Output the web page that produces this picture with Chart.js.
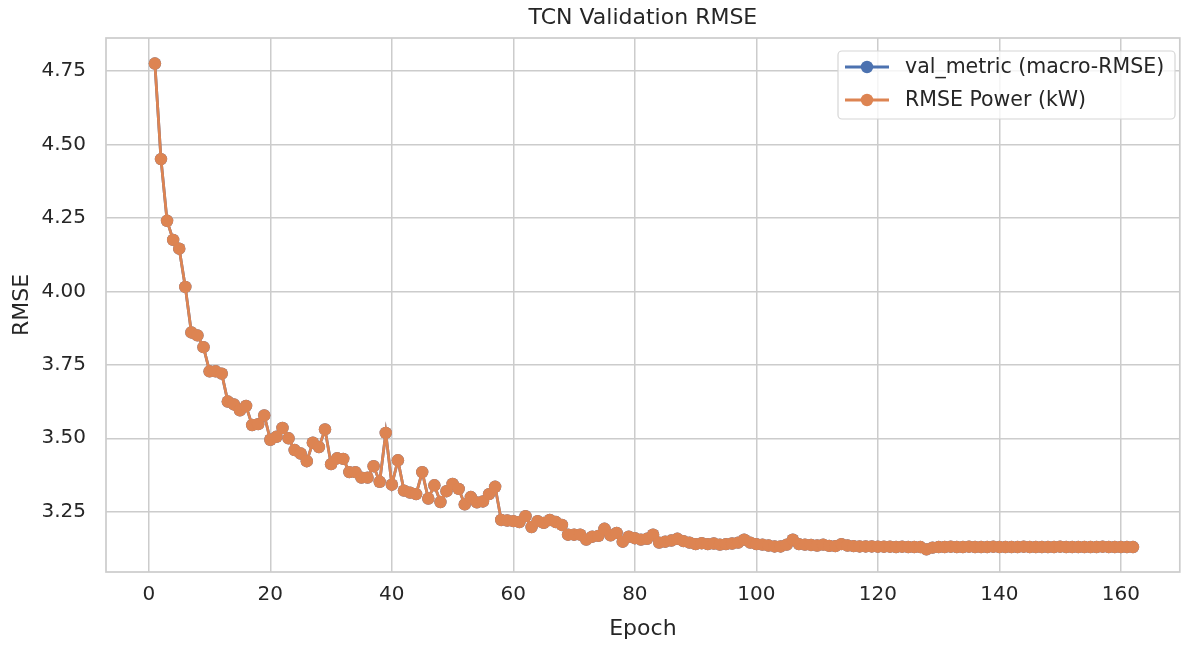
<!DOCTYPE html>
<html>
<head>
<meta charset="utf-8">
<title>TCN Validation RMSE</title>
<script src="https://cdn.jsdelivr.net/npm/chart.js@4.4.0/dist/chart.umd.min.js"></script>
<style>
  html, body { margin: 0; padding: 0; background: #ffffff; }
  #wrap { width: 1186px; height: 646px; }
</style>
</head>
<body>
<div id="wrap"><canvas id="myChart" width="1186" height="646"></canvas></div>
<script>
// Valores
const epochs = Array.from({ length: 162 }, (_, i) => i + 1);

const rmsePower = [
    4.775, 4.45, 4.24, 4.175, 4.145, 4.015, 3.86, 3.85, 3.81, 3.728,
    3.728, 3.72, 3.625, 3.615, 3.595, 3.61, 3.545, 3.548, 3.578, 3.495,
    3.505, 3.535, 3.50, 3.46, 3.448, 3.422, 3.485, 3.47, 3.53, 3.412,
    3.432, 3.43, 3.385, 3.385, 3.366, 3.366, 3.405, 3.352, 3.518, 3.342,
    3.425, 3.322, 3.315, 3.31, 3.385, 3.295, 3.34, 3.283, 3.32, 3.345,
    3.328, 3.275, 3.30, 3.282, 3.285, 3.31, 3.335, 3.222, 3.22, 3.218,
    3.215, 3.235, 3.198, 3.218, 3.212, 3.222, 3.215, 3.205, 3.172, 3.172,
    3.172, 3.155, 3.165, 3.168, 3.192, 3.17, 3.178, 3.148, 3.165, 3.16,
    3.155, 3.158, 3.172, 3.145, 3.148, 3.152, 3.158, 3.15, 3.145, 3.14,
    3.143, 3.14, 3.142, 3.138, 3.14, 3.142, 3.145, 3.155, 3.145, 3.14,
    3.138, 3.135, 3.132, 3.132, 3.138, 3.155, 3.14, 3.138, 3.137, 3.135,
    3.138, 3.134, 3.133, 3.14, 3.135, 3.133, 3.132, 3.132, 3.132, 3.131,
    3.131, 3.131, 3.13, 3.131, 3.13, 3.13, 3.13, 3.122, 3.128, 3.13,
    3.13, 3.131, 3.13, 3.13, 3.131, 3.13, 3.13, 3.13, 3.131, 3.13,
    3.13, 3.13, 3.13, 3.131, 3.13, 3.13, 3.13, 3.13, 3.13, 3.131,
    3.13, 3.13, 3.13, 3.13, 3.13, 3.13, 3.131, 3.13, 3.13, 3.13,
    3.13, 3.13
];
// val_metric coincide com RMSE Power (a linha azul fica escondida sob a laranja)
const valMetric = rmsePower.slice();

const seriesLabels = ['val_metric (macro-RMSE)', 'RMSE Power (kW)'];
const xTicks = [0, 20, 40, 60, 80, 100, 120, 140, 160];
const yTicks = [3.25, 3.50, 3.75, 4.00, 4.25, 4.50, 4.75];

const BLUE = '#4c72b0';
const ORANGE = '#dd8452';
const GRID = '#cccccc';
const TEXT = '#262626';
const FONT = "'DejaVu Sans', sans-serif";

function toPoints(values) {
    return values.map((v, i) => ({ x: epochs[i], y: v }));
}

// Título, moldura e legenda desenhados à mão (estilo matplotlib/seaborn)
const decorPlugin = {
    id: 'decor',
    afterDraw(chart) {
        const { ctx, chartArea } = chart;
        ctx.save();
        // moldura
        ctx.strokeStyle = GRID;
        ctx.lineWidth = 1.7;
        ctx.strokeRect(chartArea.left, chartArea.top, chartArea.right - chartArea.left, chartArea.bottom - chartArea.top);

        // título
        ctx.fillStyle = TEXT;
        ctx.font = '22px ' + FONT;
        ctx.textAlign = 'center';
        ctx.textBaseline = 'middle';
        ctx.fillText('TCN Validation RMSE', (chartArea.left + chartArea.right) / 2, 18);

        // legenda
        const bx = 838, by = 51, bw = 337, bh = 68;
        ctx.fillStyle = 'rgba(255,255,255,0.8)';
        ctx.strokeStyle = '#d6d6d6';
        ctx.lineWidth = 1.2;
        ctx.beginPath();
        ctx.roundRect(bx, by, bw, bh, 4);
        ctx.fill();
        ctx.stroke();

        const colors = [BLUE, ORANGE];
        const rows = [67, 100];
        ctx.font = '20.5px ' + FONT;
        ctx.textAlign = 'left';
        rows.forEach((ry, i) => {
            ctx.strokeStyle = colors[i];
            ctx.lineWidth = 2.8;
            ctx.beginPath();
            ctx.moveTo(845, ry);
            ctx.lineTo(889, ry);
            ctx.stroke();
            ctx.fillStyle = colors[i];
            ctx.beginPath();
            ctx.arc(867, ry, 6.2, 0, Math.PI * 2);
            ctx.fill();
            ctx.fillStyle = TEXT;
            ctx.fillText(seriesLabels[i], 905, ry + 1);
        });
        ctx.restore();
    }
};

function criarGrafico() {
    const config = {
        type: 'line',
        data: {
            datasets: [
                {
                    label: seriesLabels[0],
                    data: toPoints(valMetric),
                    borderColor: BLUE,
                    backgroundColor: BLUE,
                    borderWidth: 2.8,
                    pointRadius: 6.2,
                    pointBorderWidth: 0,
                    pointBackgroundColor: BLUE,
                    tension: 0,
                    order: 1
                },
                {
                    label: seriesLabels[1],
                    data: toPoints(rmsePower),
                    borderColor: ORANGE,
                    backgroundColor: ORANGE,
                    borderWidth: 2.8,
                    pointRadius: 6.2,
                    pointBorderWidth: 0,
                    pointBackgroundColor: ORANGE,
                    tension: 0,
                    order: 0
                }
            ]
        },
        options: {
            responsive: false,
            animation: false,
            layout: { padding: { top: 38, right: 1, left: 0, bottom: 0 } },
            plugins: {
                legend: { display: false },
                title: { display: false },
                tooltip: { enabled: false }
            },
            scales: {
                x: {
                    type: 'linear',
                    min: -7.05,
                    max: 169.7,
                    afterBuildTicks: s => { s.ticks = xTicks.map(v => ({ value: v })); },
                    afterFit: s => { s.height = 74; },
                    grid: { color: GRID, lineWidth: 1.5, drawTicks: false },
                    border: { display: false },
                    ticks: { color: TEXT, font: { family: FONT, size: 20 }, padding: 11, maxRotation: 0 },
                    title: { display: true, text: 'Epoch', color: TEXT, font: { family: FONT, size: 22 }, padding: { top: 0, bottom: 4 } }
                },
                y: {
                    min: 3.045,
                    max: 4.862,
                    afterBuildTicks: s => { s.ticks = yTicks.map(v => ({ value: v })); },
                    afterFit: s => { s.width = 106; },
                    grid: { color: GRID, lineWidth: 1.5, drawTicks: false },
                    border: { display: false },
                    ticks: { color: TEXT, font: { family: FONT, size: 20 }, padding: 20, callback: v => v.toFixed(2) },
                    title: { display: true, text: 'RMSE', color: TEXT, font: { family: FONT, size: 22 }, padding: { top: 9, bottom: 0 } }
                }
            }
        },
        plugins: [decorPlugin]
    };

    const ctx = document.getElementById('myChart');
    const myChart = new Chart(ctx, config);
}

criarGrafico();
</script>
</body>
</html>
